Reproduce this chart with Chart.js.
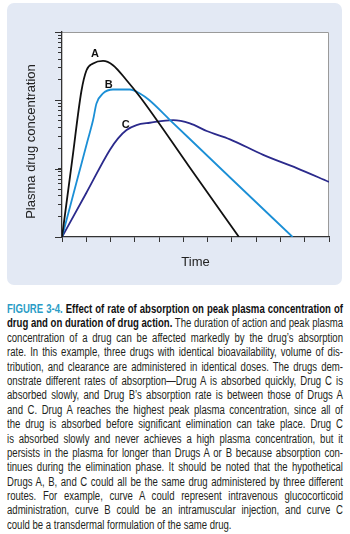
<!DOCTYPE html>
<html>
<head>
<meta charset="utf-8">
<script src="https://cdn.jsdelivr.net/npm/chart.js@4"></script>
<style>
  body { margin: 0; background: #fff; width: 350px; height: 534px; overflow: hidden; position: relative; }
  #panel { position: absolute; left: 7px; top: 3px; width: 335px; height: 282px; background: #e3e9f4; border-radius: 7px; }
  #chart { position: absolute; left: 0; top: 0; }
  #caption { position: absolute; left: 7px; top: 302px; width: 336px;
    font-family: "Liberation Sans Narrow", "Liberation Sans", Arial, sans-serif;
    font-size: 12.5px; line-height: 14.4px; color: #231f20; }
  .ln { white-space: nowrap; transform-origin: 0 0; height: 14.4px; }
  .fig { color: #2a9cc6; font-weight: bold; }
  b { font-weight: bold; color: #111; }
</style>
</head>
<body>
<div id="panel"></div>
<canvas id="chart" width="350" height="290"></canvas>
<div id="caption">
  <div class="ln"><span class="fig">FIGURE 3-4.</span> <b>Effect of rate of absorption on peak plasma concentration of</b></div>
  <div class="ln"><b>drug and on duration of drug action.</b> The duration of action and peak plasma</div>
  <div class="ln">concentration of a drug can be affected markedly by the drug’s absorption</div>
  <div class="ln">rate. In this example, three drugs with identical bioavailability, volume of dis-</div>
  <div class="ln">tribution, and clearance are administered in identical doses. The drugs dem-</div>
  <div class="ln">onstrate different rates of absorption—Drug A is absorbed quickly, Drug C is</div>
  <div class="ln">absorbed slowly, and Drug B’s absorption rate is between those of Drugs A</div>
  <div class="ln">and C. Drug A reaches the highest peak plasma concentration, since all of</div>
  <div class="ln">the drug is absorbed before significant elimination can take place. Drug C</div>
  <div class="ln">is absorbed slowly and never achieves a high plasma concentration, but it</div>
  <div class="ln">persists in the plasma for longer than Drugs A or B because absorption con-</div>
  <div class="ln">tinues during the elimination phase. It should be noted that the hypothetical</div>
  <div class="ln">Drugs A, B, and C could all be the same drug administered by three different</div>
  <div class="ln">routes. For example, curve A could represent intravenous glucocorticoid</div>
  <div class="ln">administration, curve B could be an intramuscular injection, and curve C</div>
  <div class="ln">could be a transdermal formulation of the same drug.</div>
</div>
<script>
// time axis (arbitrary units) and concentrations (log axis, 1..1000)
const timeA = [0, 0.42, 0.80, 1.01, 1.28, 1.69, 2.10, 2.66, 3.21, 5.25, 7.29];
const concA = [1, 13.3, 137, 276, 346, 378, 327, 197, 113, 10.6, 1];

const timeB = [0, 0.65, 1.05, 1.28, 1.42, 1.69, 2.10, 2.79, 3.21, 3.59, 4.45, 7.0, 9.5];
const concB = [1, 7.4, 25.4, 51.5, 90, 126, 144, 144, 126, 101, 51.5, 7.0, 1];

const timeC = [0, 1.0, 1.97, 2.31, 2.66, 3.07, 3.62, 4.58, 5.27, 5.96, 6.92, 8.29, 9.67, 11];
const concC = [1, 4.4, 18.8, 27.8, 36.8, 43.5, 47, 51.5, 46.1, 35.6, 26.9, 15.9, 10.2, 6.4];

const curveNames = ['A', 'B', 'C'];
const nameX = [1.36, 1.93, 2.63];
const nameY = [484, 167, 43.5];

const xTicks = [0, 1, 2, 3, 4, 5, 6, 7, 8, 9, 10, 11];
const yTicks = [1, 2, 3, 4, 5, 6, 7, 8, 9, 10, 20, 30, 40, 50, 60, 70, 80, 90,
                100, 200, 300, 400, 500, 600, 700, 800, 900, 1000];
const yMajor = [1, 10, 100, 1000];

function pts(xs, ys) {
  return xs.map((x, i) => ({ x: x, y: ys[i] }));
}

const extras = {
  id: 'extras',
  beforeDraw(chart) {
    const { ctx, chartArea: a } = chart;
    ctx.save();
    ctx.fillStyle = '#ffffff';
    ctx.fillRect(a.left, a.top, a.right - a.left, a.bottom - a.top);
    ctx.strokeStyle = '#9a9a9a';
    ctx.lineWidth = 1;
    ctx.beginPath();
    ctx.moveTo(a.left, a.top + 0.5);
    ctx.lineTo(a.right - 0.5, a.top + 0.5);
    ctx.lineTo(a.right - 0.5, a.bottom);
    ctx.stroke();
    ctx.restore();
  },
  afterDraw(chart) {
    const { ctx, chartArea: a, scales } = chart;
    ctx.save();
    // longer ticks at the decades
    ctx.strokeStyle = '#333';
    ctx.lineWidth = 1;
    yMajor.forEach(v => {
      const y = Math.round(scales.y.getPixelForValue(v)) + 0.5;
      ctx.beginPath();
      ctx.moveTo(a.left - 7, y);
      ctx.lineTo(a.left, y);
      ctx.stroke();
    });
    // axis titles
    ctx.fillStyle = '#222';
    ctx.font = '13px "Liberation Sans", Arial, sans-serif';
    ctx.textAlign = 'center';
    ctx.textBaseline = 'middle';
    ctx.fillText('Time', (a.left + a.right) / 2, 262);
    ctx.save();
    ctx.translate(31, (a.top + a.bottom) / 2 + 7);
    ctx.rotate(-Math.PI / 2);
    ctx.fillText('Plasma drug concentration', 0, 0);
    ctx.restore();
    // curve names
    ctx.fillStyle = '#111';
    ctx.font = 'bold 11px "Liberation Sans", Arial, sans-serif';
    curveNames.forEach((n, i) => {
      ctx.fillText(n, scales.x.getPixelForValue(nameX[i]), scales.y.getPixelForValue(nameY[i]));
    });
    ctx.restore();
  }
};

const ctx = document.getElementById('chart').getContext('2d');
const chart = new Chart(ctx, {
  type: 'line',
  data: {
    datasets: [
      { label: 'A', data: pts(timeA, concA), borderColor: '#111111' },
      { label: 'B', data: pts(timeB, concB), borderColor: '#1b8fd6' },
      { label: 'C', data: pts(timeC, concC), borderColor: '#2b2a8c' }
    ]
  },
  options: {
    responsive: false,
    animation: false,
    events: [],
    layout: { padding: { left: 52, right: 21, top: 32, bottom: 43 } },
    elements: {
      point: { radius: 0 },
      line: { borderWidth: 1.8, fill: false, cubicInterpolationMode: 'monotone' }
    },
    plugins: { legend: { display: false }, tooltip: { enabled: false } },
    scales: {
      x: {
        type: 'linear',
        min: 0,
        max: 11,
        afterBuildTicks: s => { s.ticks = xTicks.map(v => ({ value: v })); },
        afterFit: s => { s.height = 10; },
        ticks: { display: false },
        grid: { drawOnChartArea: false, drawTicks: true, tickLength: 5, tickColor: '#333', tickWidth: 1 },
        border: { color: '#333', width: 1.3 }
      },
      y: {
        type: 'logarithmic',
        min: 1,
        max: 1000,
        afterBuildTicks: s => { s.ticks = yTicks.map(v => ({ value: v })); },
        afterFit: s => { s.width = 10; },
        ticks: { display: false },
        grid: { drawOnChartArea: false, drawTicks: true, tickLength: 4, tickColor: '#333', tickWidth: 1 },
        border: { color: '#333', width: 1.3 }
      }
    }
  },
  plugins: [extras]
});

// justify caption lines to the column width with a common horizontal squeeze
const lines = Array.from(document.querySelectorAll('#caption .ln'));
const colW = 336;
let widest = 0;
lines.forEach(l => {
  l.style.display = 'inline-block';
  widest = Math.max(widest, l.getBoundingClientRect().width);
});
const sq = Math.min(1, colW / widest);
lines.forEach((l, i) => {
  l.style.display = 'block';
  l.style.width = (colW / sq) + 'px';
  l.style.transform = 'scaleX(' + sq + ')';
  l.style.textAlign = 'justify';
  l.style.textAlignLast = i === lines.length - 1 ? 'left' : 'justify';
});
</script>
</body>
</html>
